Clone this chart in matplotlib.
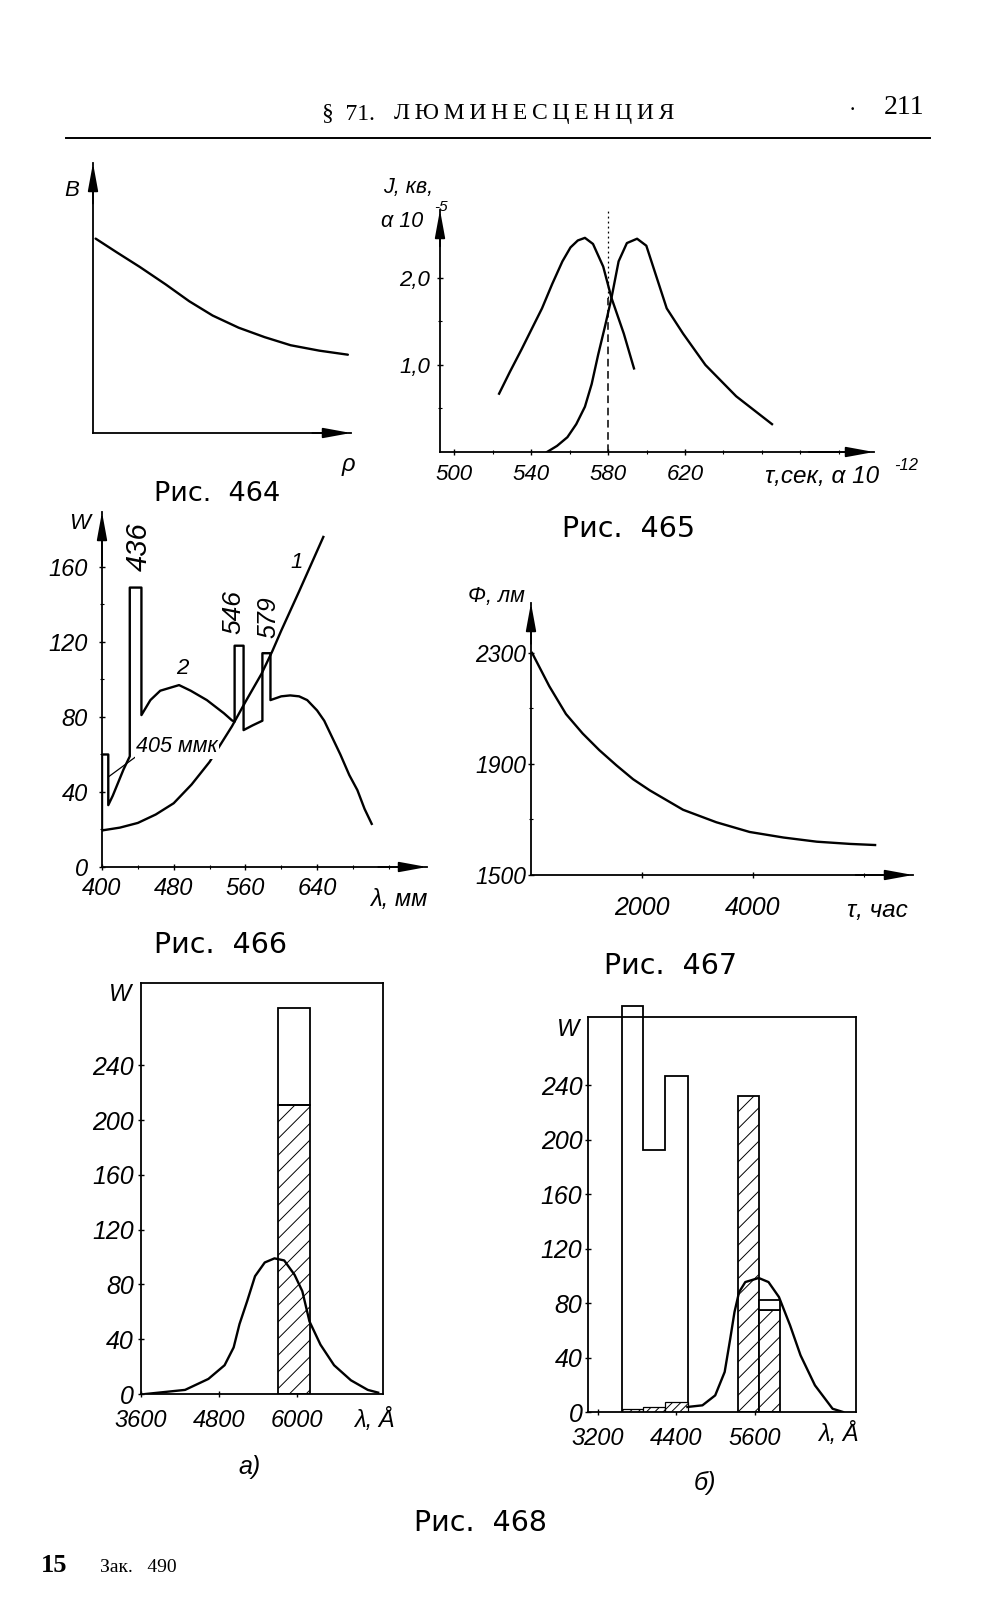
import matplotlib
matplotlib.use('Agg')
import matplotlib.pyplot as plt

plt.rcParams['hatch.linewidth'] = 0.7
plt.rcParams['hatch.color'] = 'black'
plt.rcParams['font.family'] = ['Liberation Sans', 'DejaVu Sans']

# ======================= DATA =======================
# Рис. 464
rho_464 = [0.1, 0.9, 1.8, 2.8, 3.7, 4.6, 5.6, 6.6, 7.6, 8.7, 9.8]
B_464 = [7.2, 6.7, 6.15, 5.5, 4.88, 4.35, 3.9, 3.55, 3.25, 3.05, 2.9]

# Рис. 465
tau_465_abs = [523.4, 529.0, 535.1, 540.5, 545.7, 551.0, 556.3, 560.5, 564.3, 568.0, 572.2,
               577.5, 581.8, 588.2, 593.5]
J_465_abs = [0.67, 0.92, 1.18, 1.42, 1.65, 1.93, 2.19, 2.35, 2.43, 2.46, 2.39,
             2.13, 1.77, 1.36, 0.96]
tau_465_em = [548.3, 553.5, 558.9, 563.5, 568.0, 571.5, 574.9, 578.5, 581.8, 585.5, 589.8, 595.1,
              599.9, 605.2, 610.5, 619.0, 630.6, 646.6, 665.2]
J_465_em = [0.0, 0.07, 0.17, 0.32, 0.52, 0.78, 1.12, 1.45, 1.77, 2.19, 2.40, 2.45,
            2.37, 2.01, 1.65, 1.36, 1.0, 0.64, 0.32]
tau_465_ticks = [500, 540, 580, 620]
tau_465_ticklabels = ['500', '540', '580', '620']
J_465_ticks = [1.0, 2.0]
J_465_ticklabels = ['1,0', '2,0']
tau_465_cross = 580
J_465_cross = 1.77
J_465_dash_top = 2.85

# Рис. 466
lam_466_1 = [400, 420, 440, 460, 480, 500, 520, 545, 560, 578, 590, 600, 620, 647]
W_466_1 = [19.5, 21, 23.5, 28, 34, 44, 56, 75, 88, 103, 115, 126, 147, 176]
lam_466_2 = [400, 400, 407, 407, 412, 418, 424, 431, 431, 444, 444, 454, 465, 486, 499, 517, 536, 545,
             548, 548, 558, 558, 568, 579, 579, 588, 588, 600, 610, 620, 629, 640, 648, 657, 666, 676,
             685, 693, 701]
W_466_2 = [19.5, 60, 60, 33, 38, 45, 52, 59, 149, 149, 81, 89, 94, 97, 94, 89, 82, 78.2,
           77.5, 118, 118, 73, 75.5, 78, 114, 114, 89, 91, 91.5, 91, 89, 83.5, 78, 69, 60, 49,
           41, 31, 23]
lam_466_ticks = [400, 480, 560, 640]
lam_466_ticklabels = ['400', '480', '560', '640']
W_466_ticks = [0, 40, 80, 120, 160]
W_466_ticklabels = ['0', '40', '80', '120', '160']
label_405_xy = (407, 48)
label_405_text_xy = (484, 64)

# Рис. 467
t_467 = [20, 330, 630, 930, 1230, 1540, 1840, 2140, 2740, 3340, 3940, 4550, 5150, 5750, 6200]
F_467 = [2300, 2180, 2080, 2010, 1950, 1895, 1845, 1805, 1735, 1690, 1655, 1635, 1620, 1612, 1608]
t_467_ticks = [2000, 4000]
t_467_ticklabels = ['2000', '4000']
F_467_ticks = [1500, 1900, 2300]
F_467_ticklabels = ['1500', '1900', '2300']

# Рис. 468 а)
lam_468a = [3670, 4280, 4640, 4890, 5030, 5120, 5240, 5360, 5510, 5660, 5810, 5970, 6090, 6200,
            6370, 6580, 6840, 7100, 7260]
V_468a = [0, 3, 11, 21, 34, 51, 68, 86, 96, 99, 97.5, 87, 75, 53, 36, 21, 10, 3, 1]
bar_468a_edges = [5720, 6210]
bar_468a_hatched = 211
bar_468a_total = 282

# Рис. 468 б)
open_468b_edges = [3575, 3885, 4220, 4572]
open_468b_heights = [298, 192, 247]
small_468b_heights = [2.4, 3.7, 7.3]
hatch_468b_edges = [5340, 5670, 5985]
hatch_468b_heights = [232, 75]
hatch_468b_open_top = 82
lam_468b = [4570, 4800, 4995, 5140, 5225, 5290, 5360, 5455, 5660, 5810, 5970, 6140, 6300, 6520, 6790, 6950]
V_468b = [3.7, 4.9, 12.2, 29.4, 53.8, 73.4, 88, 95.4, 98.4, 95.4, 84.4, 63.6, 41.6, 19.6, 2.4, 0]

W_468_ticks = [0, 40, 80, 120, 160, 200, 240]
W_468_ticklabels = ['0', '40', '80', '120', '160', '200', '240']
lam_468a_ticks = [3600, 4800, 6000]
lam_468a_ticklabels = ['3600', '4800', '6000']
lam_468b_ticks = [3200, 4400, 5600]
lam_468b_ticklabels = ['3200', '4400', '5600']

# ======================= FIGURE =======================
WPX, HPX = 1007, 1601
fig = plt.figure(figsize=(WPX / 100, HPX / 100), dpi=100)
fig.patch.set_facecolor('white')


def fx(x):
    return x / WPX


def fy(y):
    return 1 - y / HPX


def add_ax(l, t, r, b):
    ax = fig.add_axes([fx(l), fy(b), (r - l) / WPX, (b - t) / HPX])
    ax.patch.set_alpha(0)
    return ax


LW_AX = 1.3
LW_C = 1.7
ITAL = dict(family=['Liberation Sans', 'DejaVu Sans'], style='italic')
SERIF = ['Liberation Serif', 'DejaVu Serif']
CAP = ['DejaVu Sans']


def ftext(x, y, s, size=14, ha='center', va='center', **kw):
    fig.text(fx(x), fy(y), s, fontsize=size, ha=ha, va=va, **kw)


def arrow_axes(ax):
    for sp in ['top', 'right']:
        ax.spines[sp].set_visible(False)
    for sp in ['left', 'bottom']:
        ax.spines[sp].set_linewidth(LW_AX)
    style = '-|>,head_length=1.2,head_width=0.22'
    ax.annotate('', xy=(1.0, 0), xytext=(0.85, 0), xycoords='axes fraction',
                arrowprops=dict(arrowstyle=style, color='k', lw=LW_AX, shrinkA=0, shrinkB=0,
                                mutation_scale=14))
    ax.annotate('', xy=(0, 1.0), xytext=(0, 0.85), xycoords='axes fraction',
                arrowprops=dict(arrowstyle=style, color='k', lw=LW_AX, shrinkA=0, shrinkB=0,
                                mutation_scale=14))


def set_ticks(ax, xt, xl, yt, yl, xsize=14, ysize=14, xpad=4, ypad=4, xminor=None, yminor=None):
    ax.set_xticks(xt)
    ax.set_xticklabels(xl, fontsize=xsize, **ITAL)
    ax.set_yticks(yt)
    ax.set_yticklabels(yl, fontsize=ysize, **ITAL)
    ax.tick_params(axis='x', which='major', direction='inout', length=4, width=1, pad=xpad)
    ax.tick_params(axis='y', which='major', direction='inout', length=4, width=1, pad=ypad)
    if xminor is not None:
        ax.set_xticks(xminor, minor=True)
    if yminor is not None:
        ax.set_yticks(yminor, minor=True)
    ax.tick_params(which='minor', direction='inout', length=3, width=0.8)


# ---------- header ----------
ftext(348, 114, '§  71.', size=17, family=SERIF)
ftext(534, 114, '\u2009'.join('ЛЮМИНЕСЦЕНЦИЯ'), size=17, family=SERIF)
ftext(852, 111, '·', size=16, family=SERIF)
ftext(904, 108, '211', size=20, family=SERIF)
fig.add_artist(plt.Line2D([fx(66), fx(930)], [fy(138), fy(138)], color='k', lw=1.4))

# ---------- Рис. 464 ----------
ax = add_ax(93, 163, 351, 433)
ax.set_xlim(0, 9.92)
ax.set_ylim(0, 10)
arrow_axes(ax)
ax.set_xticks([])
ax.set_yticks([])
ax.plot(rho_464, B_464, color='k', lw=LW_C, solid_capstyle='round')
ftext(72, 190, 'B', size=16, **ITAL)
ftext(348, 465, 'ρ', size=17, **ITAL)
ftext(217, 494, 'Рис.  464', size=19.5, family=CAP)

# ---------- Рис. 465 ----------
ax = add_ax(440, 210, 874, 452)
ax.set_xlim(492.7, 718.2)
ax.set_ylim(0, 2.78)
arrow_axes(ax)
set_ticks(ax, tau_465_ticks, tau_465_ticklabels, J_465_ticks, J_465_ticklabels,
          xsize=16, ysize=16, xpad=7, ypad=5, xminor=[520, 560, 600, 640, 660, 680, 700],
          yminor=[0.5, 1.5, 2.5])
ax.plot(tau_465_abs, J_465_abs, color='k', lw=LW_C)
ax.plot(tau_465_em, J_465_em, color='k', lw=LW_C)
ax.plot([tau_465_cross, tau_465_cross], [0, J_465_cross], color='k', lw=1.1, ls=(0, (5, 3)))
ax.plot([tau_465_cross, tau_465_cross], [J_465_cross, J_465_dash_top], color='k', lw=0.9,
        ls=(0, (1.5, 2.5)))
ftext(408, 188, 'J, кв,', size=15.5, **ITAL)
ftext(402, 221, 'α 10', size=15.5, **ITAL)
ftext(434, 207, '-5', size=11, ha='left', **ITAL)
ftext(822, 476, 'τ,сек, α 10', size=17.5, **ITAL)
ftext(906, 465, '-12', size=12, **ITAL)
ftext(629, 529, 'Рис.  465', size=20.5, family=CAP)

# ---------- Рис. 466 ----------
ax = add_ax(102, 512, 427, 867)
ax.set_xlim(400, 762.7)
ax.set_ylim(0, 189.3)
arrow_axes(ax)
set_ticks(ax, lam_466_ticks, lam_466_ticklabels, W_466_ticks, W_466_ticklabels,
          xsize=17, ysize=17, xpad=5, ypad=8, xminor=[440, 520, 600, 680, 720],
          yminor=[20, 60, 100, 140, 180])
ax.plot(lam_466_1, W_466_1, color='k', lw=LW_C, zorder=2)
ax.plot(lam_466_2, W_466_2, color='k', lw=LW_C, zorder=2)
ax.annotate('405 ммк', xy=label_405_xy, xytext=label_405_text_xy, ha='center', va='center',
            fontsize=15.5, zorder=3, **ITAL,
            bbox=dict(boxstyle='square,pad=0.05', fc='white', ec='none'),
            arrowprops=dict(arrowstyle='-', color='k', lw=0.9, relpos=(0.05, 0.2),
                            shrinkA=0, shrinkB=0))
ftext(80, 523, 'W', size=16, **ITAL)
ftext(139, 547, '436', size=21, rotation=90, **ITAL)
ftext(233, 612, '546', size=19, rotation=90, **ITAL)
ftext(268, 617, '579', size=18, rotation=90, **ITAL)
ftext(182, 668, '2', size=16, **ITAL)
ftext(297, 562, '1', size=16, **ITAL)
ftext(399, 899, 'λ, мм', size=17, **ITAL)
ftext(221, 945, 'Рис.  466', size=20.5, family=CAP)

# ---------- Рис. 467 ----------
ax = add_ax(531, 603, 913, 875)
ax.set_xlim(0, 6883)
ax.set_ylim(1500, 2480)
arrow_axes(ax)
set_ticks(ax, t_467_ticks, t_467_ticklabels, F_467_ticks, F_467_ticklabels,
          xsize=18, ysize=16.5, xpad=13, ypad=1.5, xminor=[6000], yminor=[1700, 2100])
ax.plot(t_467, F_467, color='k', lw=LW_C)
ftext(496, 596, 'Φ, лм', size=15.5, **ITAL)
ftext(877, 910, 'τ, час', size=17.5, **ITAL)
ftext(671, 966, 'Рис.  467', size=20.5, family=CAP)

# ---------- Рис. 468 а) ----------
ax = add_ax(141, 983, 383, 1394)
ax.set_xlim(3600, 7335)
ax.set_ylim(0, 300)
for sp in ax.spines.values():
    sp.set_linewidth(LW_AX)
set_ticks(ax, lam_468a_ticks, lam_468a_ticklabels, W_468_ticks, W_468_ticklabels,
          xsize=17, ysize=18, xpad=9, ypad=3)
ax.bar(bar_468a_edges[0], bar_468a_hatched, width=bar_468a_edges[1] - bar_468a_edges[0],
       align='edge', facecolor='white', edgecolor='k', hatch='//', lw=LW_AX, zorder=2)
ax.bar(bar_468a_edges[0], bar_468a_total - bar_468a_hatched, bottom=bar_468a_hatched,
       width=bar_468a_edges[1] - bar_468a_edges[0], align='edge', facecolor='none',
       edgecolor='k', lw=LW_AX, zorder=2)
ax.plot(lam_468a, V_468a, color='k', lw=LW_C, zorder=3)
ftext(120, 994, 'W', size=17, **ITAL)
ftext(374, 1420, 'λ, Å', size=17, **ITAL)
ftext(250, 1467, 'а)', size=18, **ITAL)

# ---------- Рис. 468 б) ----------
ax = add_ax(588, 1017, 856, 1412)
ax.set_xlim(3050, 7148)
ax.set_ylim(0, 290)
for sp in ax.spines.values():
    sp.set_linewidth(LW_AX)
set_ticks(ax, lam_468b_ticks, lam_468b_ticklabels, W_468_ticks, W_468_ticklabels,
          xsize=17, ysize=18, xpad=9, ypad=2)
st = ax.stairs(open_468b_heights, open_468b_edges, baseline=0, fill=False, color='k', lw=LW_AX,
               zorder=2)
st.set_clip_on(False)
ax.bar(open_468b_edges[:-1], small_468b_heights,
       width=[open_468b_edges[i + 1] - open_468b_edges[i] for i in range(3)],
       align='edge', facecolor='white', edgecolor='k', hatch='////', lw=0.9, zorder=2)
ax.bar(hatch_468b_edges[:-1], hatch_468b_heights,
       width=[hatch_468b_edges[i + 1] - hatch_468b_edges[i] for i in range(2)],
       align='edge', facecolor='white', edgecolor='k', hatch='//', lw=LW_AX, zorder=2)
ax.bar(hatch_468b_edges[1], hatch_468b_open_top - hatch_468b_heights[1],
       bottom=hatch_468b_heights[1], width=hatch_468b_edges[2] - hatch_468b_edges[1],
       align='edge', facecolor='white', edgecolor='k', lw=LW_AX, zorder=2)
ax.plot(lam_468b, V_468b, color='k', lw=LW_C, zorder=3)
ftext(568, 1030, 'W', size=17, **ITAL)
ftext(838, 1434, 'λ, Å', size=17, **ITAL)
ftext(705, 1483, 'б)', size=18, **ITAL)

ftext(481, 1523, 'Рис.  468', size=20.5, family=CAP)

# ---------- footer ----------
ftext(41, 1565, '15', size=19, ha='left', family=SERIF, fontweight='bold')
ftext(100, 1567, 'Зак.   490', size=14, ha='left', family=SERIF)

fig.savefig('out.png', dpi=100, facecolor='white')
